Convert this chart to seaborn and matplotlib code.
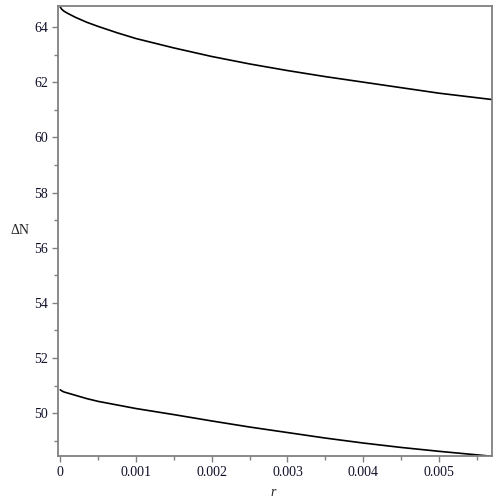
import numpy as np
import pandas as pd
import matplotlib
matplotlib.use("Agg")
import matplotlib.pyplot as plt
from matplotlib.ticker import MultipleLocator, FuncFormatter
import seaborn as sns

sns.set_style('white')
plt.rcParams['font.family'] = ['Liberation Serif', 'DejaVu Serif']

# values
r = [0, 0.00002, 0.00005, 0.0001, 0.0002, 0.00035, 0.0005, 0.00075, 0.001,
     0.0015, 0.002, 0.0025, 0.003, 0.0035, 0.004, 0.0045, 0.005, 0.0057]
dn_upper = [64.72, 64.64, 64.57, 64.49, 64.35, 64.17, 64.02, 63.79, 63.58,
            63.24, 62.93, 62.66, 62.42, 62.20, 62.00, 61.80, 61.60, 61.37]
dn_lower = [50.85, 50.81, 50.77, 50.73, 50.65, 50.53, 50.43, 50.30, 50.17,
            49.95, 49.72, 49.50, 49.30, 49.10, 48.92, 48.76, 48.62, 48.44]

df = pd.DataFrame({
    'r': r * 2,
    'dN': dn_upper + dn_lower,
    'branch': ['upper'] * len(r) + ['lower'] * len(r),
})

fig = plt.figure(figsize=(5, 5), dpi=100)
ax = fig.add_axes([0.116, 0.088, 0.868, 0.9])

sns.lineplot(data=df, x='r', y='dN', units='branch', estimator=None,
             color='black', linewidth=1.2, ax=ax, legend=False)

ax.set_xlim(-0.00003, 0.0057)
ax.set_ylim(48.45, 64.76)

ax.xaxis.set_major_locator(MultipleLocator(0.001))
ax.xaxis.set_minor_locator(MultipleLocator(0.0005))
ax.yaxis.set_major_locator(MultipleLocator(2))
ax.yaxis.set_minor_locator(MultipleLocator(1))
ax.xaxis.set_major_formatter(FuncFormatter(lambda v, p: '0' if abs(v) < 1e-12 else '%g' % v))

ax.tick_params(which='both', direction='out', color='#808080', width=1,
               labelsize=10, labelcolor='#10102a', bottom=True, left=True)
ax.tick_params(which='major', length=4, pad=3)
ax.tick_params(which='minor', length=3)

for s in ax.spines.values():
    s.set_visible(True)
    s.set_color('#808080')
    s.set_linewidth(1.3)

ax.set_xlabel('r', fontsize=10, style='italic')
ax.xaxis.set_label_coords(0.495, -0.066)
ax.set_ylabel('ΔN', fontsize=10, rotation=0, va='center', ha='center')
ax.yaxis.set_label_coords(-0.088, 0.5)

fig.savefig('out.png', dpi=100)
